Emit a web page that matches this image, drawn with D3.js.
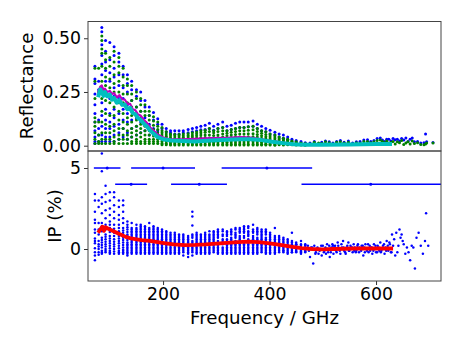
<!DOCTYPE html>
<html>
<head>
<meta charset="utf-8">
<script src="https://cdn.jsdelivr.net/npm/d3@7"></script>
<style>
  body { margin: 0; background: #fff; }
  text { font-family: "DejaVu Sans", sans-serif; fill: #000; }
</style>
</head>
<body>
<svg width="463" height="347"></svg>
<script>
// frequency of each comb column, GHz
const combFreq = [72,79,85,92,100,108,117,125,133,141,150,158,166,174,182,190,198,206,214,222,230,238,247,255,263,271,279,287,295,303,312,320,328,336,344,352,360,369,377,385,393,401,410,418,426,434,442,450,459,467]

// reflectance, blue points per column
const refBlue = [
  [.37,.31,.29,.24,.19,.15,.11,.07,.04,.02,.01],
  [.30,.26,.12,.08,.05,.02],
  [.55,.53,.47,.42,.38,.33,.27,.20,.14,.09,.05,.02],
  [.49,.44,.39,.35,.30,.24,.17,.12,.08,.04,.02],
  [.48,.40,.34,.30,.22,.15,.11,.08,.04,.02],
  [.46,.42,.36,.32,.27,.23,.17,.13,.09,.05,.02],
  [.43,.39,.33,.28,.22,.15,.10,.06,.03],
  [.37,.33,.27,.22,.17,.12,.08,.04],
  [.33,.29,.25,.19,.15,.11,.06,.03],
  [.30,.26,.21,.16,.12,.08,.04],
  [.26,.23,.18,.13,.09,.05],
  [.25,.21,.16,.11,.06],
  [.21,.18,.13,.07],
  [.18,.14,.10,.05],
  [.155,.12,.08],
  [.125,.10,.07],
  [.10,.08],
  [.08,.065],
  [.07,.06],
  [.07,.055],
  [.07,.055],
  [.07,.06],
  [.075,.06],
  [.08,.065],
  [.085,.07],
  [.09,.074],
  [.095,.075],
  [.105,.08],
  [.09,.072],
  [.10,.08],
  [.11,.085],
  [.09,.07],
  [.095,.075],
  [.105,.08],
  [.11,.085],
  [.11,.085],
  [.11,.088],
  [.115,.09],
  [.10,.08],
  [.09,.07],
  [.08,.065],
  [.072,.055],
  [.062,.05],
  [.055,.04],
  [.05,.035],
  [.04,.03],
  [.03,.022],
  [.024,.018],
  [.02,.012],
  [.014,.01]
]

// reflectance, green points per column
const refGreen = [
  [.36,.30,.22,.13,.11,.09,.06,.03,.01],
  [.36,.25,.11,.05,.02,.01],
  [.51,.49,.45,.43,.37,.30,.22,.16,.11,.06,.03,.01],
  [.43,.40,.36,.32,.28,.21,.15,.10,.06,.03,.01],
  [.41,.37,.31,.27,.20,.14,.09,.06,.03,.01],
  [.44,.39,.33,.29,.25,.18,.14,.10,.07,.04,.02,.01],
  [.41,.37,.34,.30,.25,.20,.16,.12,.08,.05,.03,.01],
  [.36,.32,.28,.24,.20,.15,.11,.08,.05,.03,.01],
  [.31,.28,.24,.20,.17,.13,.10,.07,.05,.03,.01],
  [.28,.24,.21,.18,.14,.11,.08,.06,.04,.02,.01],
  [.25,.22,.18,.15,.12,.09,.07,.05,.03,.02,.01],
  [.22,.19,.16,.13,.10,.08,.06,.04,.02,.01],
  [.19,.16,.14,.11,.09,.07,.05,.03,.02,.01],
  [.16,.14,.12,.09,.07,.05,.03,.02,.01],
  [.135,.115,.095,.075,.06,.045,.03,.02,.01],
  [.11,.09,.075,.06,.045,.03,.02,.01],
  [.085,.07,.06,.05,.04,.03,.02,.01,.004],
  [.065,.055,.045,.04,.03,.02,.01,.004],
  [.055,.05,.04,.032,.024,.015,.008,.003],
  [.052,.045,.036,.03,.022,.014,.008,.003],
  [.052,.045,.036,.028,.02,.014,.008,.003],
  [.054,.046,.038,.03,.022,.015,.008,.003],
  [.056,.048,.04,.032,.024,.015,.008,.003],
  [.06,.05,.042,.034,.025,.016,.008,.003],
  [.064,.056,.046,.036,.026,.016,.008,.003],
  [.07,.06,.05,.038,.027,.017,.008,.003],
  [.072,.062,.05,.038,.027,.017,.008,.003],
  [.08,.066,.05,.036,.025,.016,.008,.003],
  [.07,.06,.048,.036,.026,.016,.008,.003],
  [.08,.066,.05,.038,.027,.017,.008,.003],
  [.085,.07,.054,.04,.028,.017,.008,.003],
  [.07,.058,.046,.035,.025,.016,.008,.003],
  [.075,.062,.05,.038,.027,.017,.008,.003],
  [.08,.066,.052,.04,.028,.017,.008,.003],
  [.085,.07,.054,.04,.028,.017,.008,.003],
  [.085,.07,.054,.04,.028,.017,.008,.003],
  [.088,.072,.056,.042,.03,.018,.008,.003],
  [.09,.074,.056,.042,.03,.018,.008,.003],
  [.08,.066,.052,.04,.028,.017,.008,.003],
  [.07,.058,.046,.035,.025,.015,.007,.003],
  [.065,.052,.042,.032,.022,.014,.007,.003],
  [.055,.045,.036,.027,.018,.012,.006,.003],
  [.05,.04,.032,.024,.016,.01,.005,.002],
  [.04,.032,.026,.02,.014,.008,.004],
  [.035,.028,.022,.016,.01,.006,.003],
  [.03,.024,.018,.012,.008,.004],
  [.022,.018,.012,.008,.004],
  [.018,.014,.01,.006,.003],
  [.012,.009,.006,.003],
  [.01,.007,.004,.002]
]

// reflectance above 470 GHz, scattered points
const tailFreq = [476,484,492,498,505,512,519,526,533,540,548,556,563,570,577,584,590,596,602,608,612,616,620,624,628,632,636,640,644,648,652,656,660,664,668,672,678,684,690,693,695,707]
const tailBlue = [.012,.02,.008,.016,.022,.018,.012,.02,.024,.016,.022,.012,.018,.02,.026,.028,.02,.024,.034,.036,.026,.02,.03,.03,.022,.034,.028,.03,.022,.034,.026,.036,.02,.03,.036,.018,.02,.012,.014,.055,.018,.015]
const tailGreen = [.008,.016,.012,.01,.018,.014,.008,.016,.018,.012,.016,.008,.014,.012,.02,.02,.014,.018,.024,.026,.02,.014,.022,.012,.016,.02,.008,.018,.014,.024,.006,.012,.018,.008,.022,.01,.014,.006,.004,.008,.012,.012]

const refFreq = [78,82,85,88,91,95,100,104,108,113,118,123,128,133,138,143,148,153,158,164,170,176,182,190,200,215,235,260,290,320,345,365,385,405,425,445,465,500,550,600,630]
const refMagenta = [.245,.275,.28,.255,.265,.25,.255,.24,.245,.225,.235,.215,.215,.195,.195,.17,.165,.145,.14,.12,.105,.085,.07,.052,.038,.029,.029,.032,.035,.037,.04,.038,.03,.022,.014,.008,.005,.004,.006,.006,.006]
const refTeal = [.225,.262,.25,.232,.25,.23,.238,.214,.222,.2,.212,.19,.192,.17,.176,.152,.146,.128,.12,.102,.088,.07,.056,.04,.03,.024,.022,.02,.024,.028,.03,.03,.026,.018,.012,.007,.004,.004,.006,.008,.008]

// IP %, points per column
const ipCols = [
  [3.4,3.0,2.3,1.8,1.6,1.2,.65,.5,.05,-.2,-.7],
  [3.0,2.6,1.6,1.2,.5,.3,0,-.2],
  [5.9,4.8,3.2,2.8,2.2,1.6,1.1,.7,.4,.1,-.1,-.3],
  [3.9,3.4,2.9,2.4,1.9,1.5,.9,.6,.3,0,-.2],
  [3.5,3.0,2.5,2.1,1.7,1.3,.8,.5,.2,-.1,-.3],
  [3.5,3.2,2.7,2.3,1.9,1.5,1.0,.6,.3,0,-.3],
  [3.0,2.6,2.1,1.8,1.5,1.1,.8,.5,.2,-.1,-.3],
  [3.0,2.7,2.3,1.9,1.6,1.3,1.0,.7,.4,.1,-.1,-.3],
  [1.7,1.5,1.2,.9,.7,.4,.2,0,-.2,-.4],
  [1.6,1.3,1.1,.9,.7,.5,.3,.1,-.1,-.3],
  [1.5,1.3,1.1,.9,.7,.5,.3,.1,-.1,-.3],
  [1.5,1.3,1.1,.9,.7,.5,.3,.1,-.1,-.3],
  [1.4,1.2,1.0,.8,.6,.4,.2,.1,-.1,-.3],
  [1.6,1.3,1.1,.9,.7,.5,.3,.1,-.1,-.3],
  [1.4,1.2,1.0,.8,.6,.4,.2,0,-.2,-.3],
  [1.3,1.1,.9,.7,.5,.3,.1,0,-.2,-.3],
  [1.2,1.0,.8,.6,.5,.3,.1,0,-.2,-.3],
  [1.1,.9,.8,.6,.4,.3,.1,0,-.2,-.3],
  [1.0,.9,.7,.5,.4,.2,.1,-.1,-.2,-.3],
  [1.0,.8,.7,.5,.4,.2,.1,-.1,-.2,-.3],
  [.9,.8,.6,.5,.3,.2,.1,-.1,-.2,-.3],
  [.9,.8,.6,.5,.4,.2,.1,-.1,-.2,-.4],
  [.8,.7,.5,.4,.3,.2,0,-.1,-.3,-.5],
  [2.3,2.0,1.45,.9,.7,.5,.4,.2,.1,0,-.2,-.4],
  [1.0,.8,.6,.5,.3,.2,.1,-.1,-.2,-.3],
  [.9,.8,.6,.5,.3,.2,0,-.1,-.3],
  [1.0,.9,.7,.5,.4,.2,.1,-.1,-.2,-.3],
  [1.1,.9,.7,.6,.4,.3,.1,0,-.2,-.3],
  [1.1,1.0,.8,.6,.4,.2,.1,-.1,-.2],
  [1.2,1.0,.8,.5,.4,.2,0,-.2,-.3],
  [1.2,1.1,.6,.4,.1,-.1,-.3],
  [1.1,.9,.6,.4,.2,0,-.2,-.3],
  [1.2,1.0,.7,.5,.3,.1,-.1,-.3],
  [1.3,1.0,.8,.5,.2,.1,-.1,-.3],
  [1.3,1.1,.8,.6,.4,.2,0,-.2,-.3],
  [1.4,1.2,1.0,.7,.4,.2,0,-.2,-.3],
  [1.4,1.1,.9,.6,.4,.2,0,-.2,-.3],
  [1.5,1.2,1.0,.7,.5,.2,0,-.2,-.3],
  [1.3,1.1,.9,.6,.4,.2,0,-.2,-.3],
  [1.2,1.0,.8,.6,.4,.2,0,-.2],
  [1.2,1.0,.7,.5,.3,.1,-.1,-.3],
  [1.0,.9,.7,.5,.3,.1,-.1,-.3],
  [1.3,.8,.6,.4,.2,0,-.2,-.3],
  [.8,.6,.5,.3,.2,0,-.2],
  [.7,.5,.4,.2,.1,-.1,-.2],
  [.6,.5,.3,.2,0,-.1,-.3],
  [1.0,.5,.3,.2,.1,-.1,-.2],
  [.4,.3,.2,.1,0,-.1,-.2],
  [.5,.3,.1,0,-.1,-.2,-.3],
  [.3,.2,.1,0,-.1,-.2]
]

// IP %, second run of points per column, sits between the first
const ipCols2 = [
  [1.0,.35,-.4],
  [.9,.15,-.35],
  [1.4,.55,.25,-.2],
  [1.2,.75,.45,.15,-.1],
  [1.5,1.05,.65,.35,.05,-.2],
  [1.25,.8,.45,.15,-.15],
  [1.3,.95,.65,.35,.05,-.2],
  [1.15,.85,.55,.25,-.05,-.2],
  [1.35,1.05,.8,.55,.3,.1,-.1,-.3],
  [1.2,1.0,.8,.6,.4,.2,0,-.2],
  [1.2,1.0,.8,.6,.4,.2,0,-.2],
  [1.4,1.2,1.0,.8,.6,.4,.2,0,-.2],
  [1.3,1.1,.9,.7,.5,.3,0,-.2],
  [1.2,1.0,.8,.6,.4,.2,0,-.2],
  [1.3,1.1,.9,.7,.5,.3,.1,-.1],
  [1.2,1.0,.8,.6,.4,.2,-.1],
  [1.1,.9,.7,.4,.2,-.1],
  [1.0,.7,.5,.2,-.1],
  [.8,.6,.3,0],
  [.9,.6,.3,0],
  [.7,.4,0],
  [.7,.3,0],
  [.6,.1,-.2],
  [.8,.3,-.1],
  [.9,.7,.4,0],
  [.7,.4,.1,-.2],
  [.8,.6,.3,0],
  [.8,.5,.2,-.1],
  [.9,.7,.5,.3,0],
  [1.1,.9,.7,.3,.1,-.1],
  [.9,.8,.5,.3,0,-.2],
  [1.0,.8,.5,.3,.1,-.1],
  [1.1,.9,.6,.4,.2,0,-.2],
  [1.2,.9,.7,.4,.3,0,-.2],
  [1.2,1.0,.7,.5,.3,.1,-.1],
  [1.3,1.1,.8,.5,.3,.1,-.1],
  [1.3,1.0,.8,.5,.3,.1,-.1],
  [1.1,.8,.6,.3,.1,-.1],
  [1.2,1.0,.7,.5,.3,.1,-.1],
  [1.1,.9,.7,.5,.3,.1,-.1],
  [1.1,.9,.6,.4,.2,0,-.2],
  [.8,.6,.4,.2,0,-.2],
  [.7,.5,.3,.1,-.1],
  [.7,.4,.1,-.1],
  [.6,.3,0,-.1],
  [.4,.1,-.2],
  [.4,0,-.2],
  [.3,.05,-.15],
  [.2,.05,-.15],
  [.25,.05,-.15]
]

// IP above 470 GHz, scattered points
const ipTailFreq = [472,476,478,482,484,487,490,492,495,498,500,503,506,508,510,513,516,518,520,523,526,528,530,533,536,538,540,543,546,548,550,553,556,558,560,563,566,568,570,573,576,578,580,583,586,588,590,593,596,598,600,603,606,608,610,613,616,618,620,623,626,628,630,632,634,636,638,640,642,644,646,648,650,652,655,658,661,664,667,670,673,676,680,684,688,692,694,698,
  474,480,486,489,494,497,502,505,509,512,515,519,522,525,529,532,535,539,542,545,549,552,555,559,562,565,569,572,575,579,582,585,589,592,595,599,602,605,609,612,615,619,622,625,629]
const ipTailVal = [.2,-.5,.1,-.9,.2,-.2,.1,-.3,0,-.4,.2,-.1,-.3,.3,-.2,-.5,.1,.3,-.3,.2,-.2,.4,0,-.3,.1,.5,-.1,-.3,.2,.4,-.1,.1,-.2,.3,.1,-.1,.3,-.2,0,.2,-.4,.1,.3,-.1,-.2,.2,.1,-.3,.3,0,-.2,.2,-.1,.4,-.1,.2,-.3,.1,.5,-.1,.3,-.2,.9,.2,.6,-.4,1.0,-.2,.2,1.2,.7,.9,.5,.3,-.3,.1,-.2,-.7,.2,.1,-1.2,.7,1.0,.2,-.3,.5,2.2,.2,
  -.1,.1,-.3,0,-.1,.2,-.2,.1,0,.2,-.2,.2,.1,-.1,.2,-.1,.3,.1,-.2,.1,-.1,.2,.1,-.1,-.2,.2,.1,-.1,.2,-.2,0,.3,-.1,.1,-.1,.2,-.2,.1,-.2,0,.3,-.1,.2,.4,-.2]

// binned IP with frequency span
const binFreq = [95,200,395,140,268,590]
const binLow = [70,140,310,110,215,460]
const binHigh = [120,260,480,170,320,730]
const binVal = [5,5,5,4,4,4]

const ipLineFreq = [78,82,86,89,92,100,110,120,130,140,150,160,175,190,205,220,240,260,280,300,320,340,360,380,400,420,440,460,480,500,520,560,600,632]
const ipLineVal = [1.0,1.2,1.38,1.12,1.35,1.2,1.05,.9,.75,.65,.6,.55,.5,.42,.35,.28,.24,.25,.28,.33,.38,.42,.45,.42,.35,.25,.15,.05,0,-.02,0,.03,.03,.03]

const svg = d3.select('svg')
const left = 88, right = 441, top1 = 21.5, mid = 151, bottom = 281

const x = d3.scaleLinear().domain([59, 722]).range([left, right])
const yRef = d3.scaleLinear().domain([-0.0247, 0.578]).range([mid, top1])
const yIp = d3.scaleLinear().domain([-1.975, 6.05]).range([bottom, mid])

const defs = svg.append('defs')
defs.append('clipPath').attr('id', 'clipTop').append('rect')
  .attr('x', left).attr('y', top1).attr('width', right - left).attr('height', mid - top1)
defs.append('clipPath').attr('id', 'clipBottom').append('rect')
  .attr('x', left).attr('y', mid).attr('width', right - left).attr('height', bottom - mid)

const gTop = svg.append('g').attr('clip-path', 'url(#clipTop)')
const gBottom = svg.append('g').attr('clip-path', 'url(#clipBottom)')

function columnPoints(cols) {
  return cols.flatMap((vals, i) => vals.map(v => [combFreq[i], v]))
}
function dots(g, pts, yScale, r, color) {
  g.append('g').selectAll('circle').data(pts).enter().append('circle')
    .attr('cx', d => x(d[0]))
    .attr('cy', d => yScale(d[1]))
    .attr('r', r)
    .attr('fill', color)
}
function curve(g, xs, ys, yScale, w, color) {
  const line = d3.line().x(d => x(d[0])).y(d => yScale(d[1]))
  g.append('path').datum(xs.map((f, i) => [f, ys[i]]))
    .attr('d', line)
    .attr('fill', 'none')
    .attr('stroke', color)
    .attr('stroke-width', w)
    .attr('stroke-linejoin', 'round')
}

dots(gTop, columnPoints(refBlue).concat(tailFreq.map((f, i) => [f, tailBlue[i]])), yRef, 1.5, '#0000ff')
dots(gTop, columnPoints(refGreen).concat(tailFreq.map((f, i) => [f, tailGreen[i]])), yRef, 1.5, '#008000')
curve(gTop, refFreq, refMagenta, yRef, 2.2, '#bf00bf')
curve(gTop, refFreq, refTeal, yRef, 4, '#00bfbf')

const ipPoints = columnPoints(ipCols).concat(columnPoints(ipCols2), ipTailFreq.map((f, i) => [f, ipTailVal[i]]))
dots(gBottom, ipPoints, yIp, 1.25, '#0000ff')
binFreq.forEach((f, i) => {
  gBottom.append('line')
    .attr('x1', x(binLow[i])).attr('x2', x(binHigh[i]))
    .attr('y1', yIp(binVal[i])).attr('y2', yIp(binVal[i]))
    .attr('stroke', '#0000ff').attr('stroke-width', 1.5)
})
dots(gBottom, binFreq.map((f, i) => [f, binVal[i]]), yIp, 1.5, '#0000ff')
curve(gBottom, ipLineFreq, ipLineVal, yIp, 3.8, '#ff0000')

// axes
function styleAxis(g) {
  g.selectAll('.tick line').attr('stroke', '#333')
  g.selectAll('text').style('font-size', '17.3px')
  g.select('.domain').remove()
}
svg.append('g').attr('transform', `translate(${left},0)`)
  .call(d3.axisLeft(yRef).tickValues([0, 0.25, 0.5]).tickFormat(d3.format('.2f')).tickSize(4).tickPadding(3))
  .call(styleAxis)
svg.append('g').attr('transform', `translate(${left},0)`)
  .call(d3.axisLeft(yIp).tickValues([0, 5]).tickFormat(d3.format('d')).tickSize(4).tickPadding(3))
  .call(styleAxis)
svg.append('g').attr('transform', `translate(0,${bottom})`)
  .call(d3.axisBottom(x).tickValues([200, 400, 600]).tickSize(4).tickPadding(3))
  .call(styleAxis)

svg.append('rect').attr('x', left).attr('y', top1).attr('width', right - left).attr('height', mid - top1)
  .attr('fill', 'none').attr('stroke', '#444').attr('stroke-width', 1)
svg.append('rect').attr('x', left).attr('y', mid).attr('width', right - left).attr('height', bottom - mid)
  .attr('fill', 'none').attr('stroke', '#444').attr('stroke-width', 1)

svg.append('text').attr('x', 264.5).attr('y', 323.5).attr('text-anchor', 'middle')
  .style('font-size', '18.2px').text('Frequency / GHz')
svg.append('text').attr('transform', 'translate(33,86) rotate(-90)').attr('text-anchor', 'middle')
  .style('font-size', '18.2px').text('Reflectance')
svg.append('text').attr('transform', 'translate(61,216) rotate(-90)').attr('text-anchor', 'middle')
  .style('font-size', '18.2px').text('IP (%)')
</script>
</body>
</html>
